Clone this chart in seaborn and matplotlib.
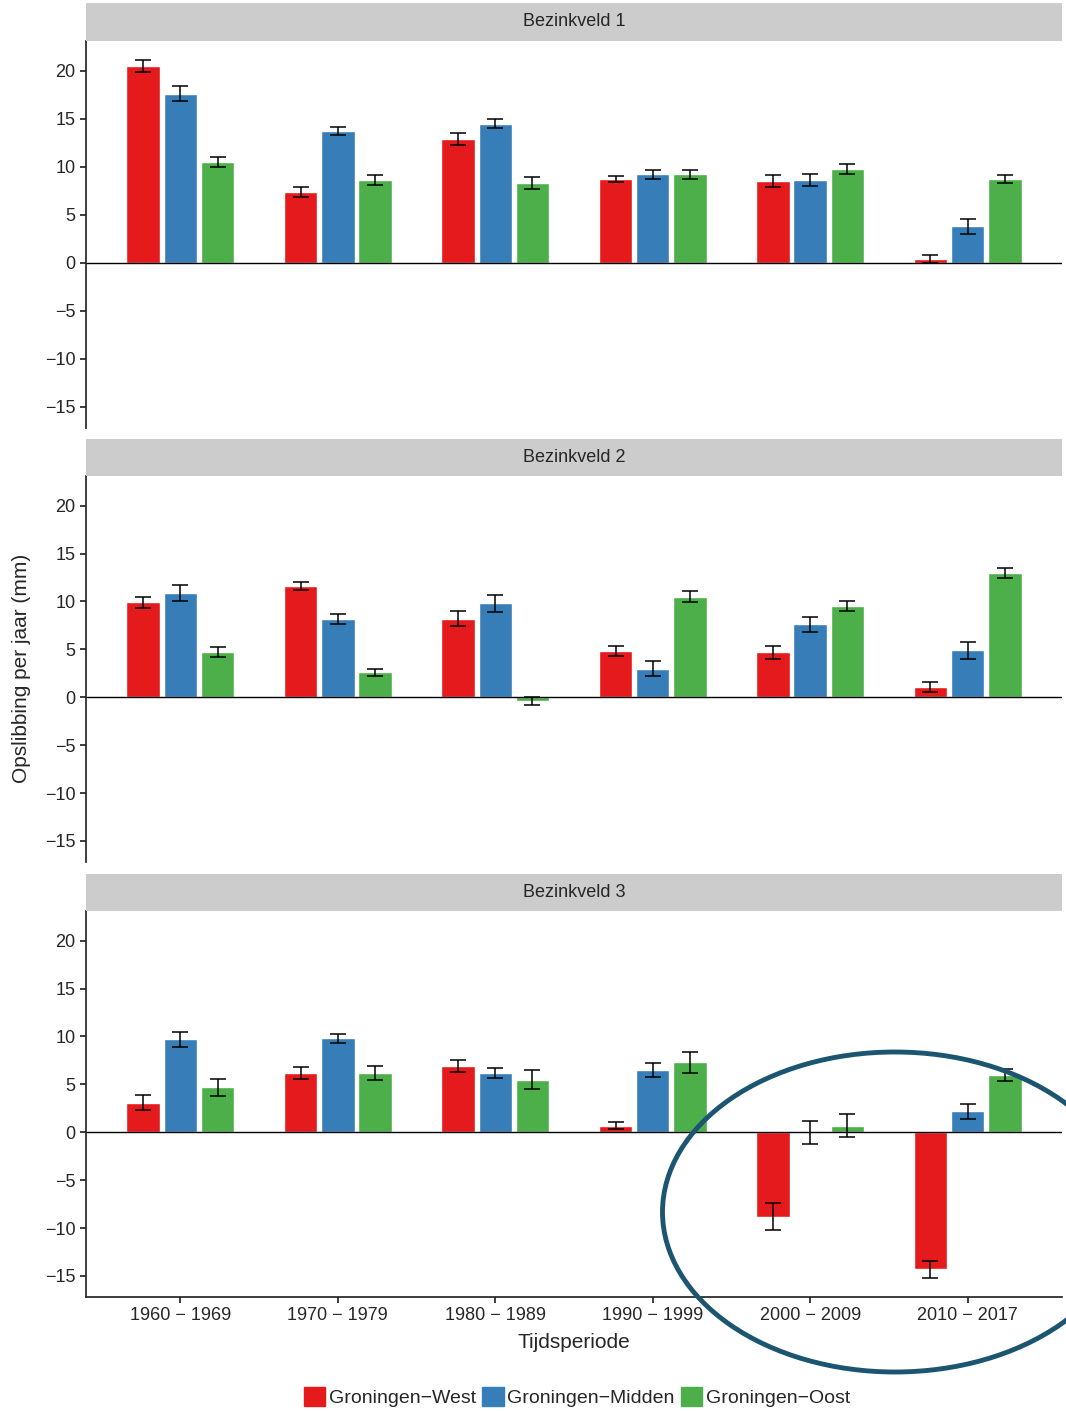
import numpy as np
import pandas as pd
import matplotlib
matplotlib.use("Agg")
import matplotlib.pyplot as plt
from matplotlib.patches import Ellipse
import seaborn as sns

sns.set_theme(style="ticks")
plt.rcParams['font.family'] = ['Liberation Sans', 'DejaVu Sans']

periods = ["1960 \u2212 1969", "1970 \u2212 1979", "1980 \u2212 1989",
           "1990 \u2212 1999", "2000 \u2212 2009", "2010 \u2212 2017"]
series = ["Groningen\u2212West", "Groningen\u2212Midden", "Groningen\u2212Oost"]
panels = ["Bezinkveld 1", "Bezinkveld 2", "Bezinkveld 3"]
colors = ["#E41A1C", "#377EB8", "#4DAF4A"]

# values[panel][series][period]
west = [[20.5, 7.4, 12.9, 8.7, 8.5, 0.4],
        [9.9, 11.6, 8.2, 4.8, 4.7, 1.1],
        [3.1, 6.2, 6.9, 0.7, -8.8, -14.3]]
midden = [[17.6, 13.7, 14.5, 9.2, 8.6, 3.8],
          [10.9, 8.2, 9.8, 3.0, 7.6, 4.9],
          [9.7, 9.8, 6.2, 6.5, 0.0, 2.2]]
oost = [[10.5, 8.6, 8.3, 9.2, 9.8, 8.7],
        [4.7, 2.6, -0.4, 10.5, 9.5, 13.0],
        [4.7, 6.2, 5.5, 7.3, 0.7, 6.0]]
err_west = [[0.6, 0.5, 0.6, 0.3, 0.6, 0.4],
            [0.6, 0.4, 0.8, 0.5, 0.7, 0.5],
            [0.8, 0.6, 0.6, 0.4, 1.4, 0.9]]
err_midden = [[0.8, 0.4, 0.5, 0.5, 0.6, 0.8],
              [0.8, 0.5, 0.9, 0.8, 0.8, 0.9],
              [0.8, 0.5, 0.5, 0.7, 1.2, 0.8]]
err_oost = [[0.5, 0.5, 0.6, 0.5, 0.5, 0.4],
            [0.5, 0.4, 0.4, 0.6, 0.5, 0.5],
            [0.9, 0.7, 1.0, 1.1, 1.2, 0.6]]

rows = []
for p, panel in enumerate(panels):
    for s, (vals, errs) in enumerate([(west, err_west), (midden, err_midden), (oost, err_oost)]):
        for k, per in enumerate(periods):
            rows.append(dict(panel=panel, serie=series[s], period=per,
                             value=vals[p][k], err=errs[p][k], s=s, k=k))
df = pd.DataFrame(rows)

fig = plt.figure(figsize=(10.66, 14.11), dpi=100)
W, H = 1066, 1411
axes_px = [(41, 428), (476, 862), (911, 1297)]
strip_px = [(3, 41), (439, 476), (874, 911)]
left, right = 86, 1062

for p, panel in enumerate(panels):
    top, bot = axes_px[p]
    ax = fig.add_axes([left / W, 1 - bot / H, (right - left) / W, (bot - top) / H])
    sub = df[df.panel == panel]
    sns.barplot(data=sub, x="period", y="value", hue="serie", order=periods,
                hue_order=series, palette=colors, width=0.71, gap=0.1,
                saturation=1, errorbar=None, legend=False, ax=ax)
    offs = [-0.236, 0.0, 0.236]
    for _, r in sub.iterrows():
        ax.errorbar(r.k + offs[r.s], r.value, yerr=r.err, fmt="none",
                    ecolor="black", elinewidth=1.1, capsize=6, capthick=1.1)
    ax.axhline(0, color="black", lw=1)
    ax.set_ylim(-17.2, 23.1)
    ax.set_xlim(-0.6, 5.6)
    ax.set_yticks([-15, -10, -5, 0, 5, 10, 15, 20])
    ax.tick_params(axis="y", labelsize=13, length=4)
    ax.set_xlabel("")
    ax.set_ylabel("")
    sns.despine(ax=ax, top=True, right=True, bottom=(p != 2))
    if p != 2:
        ax.set_xticks([])
    else:
        ax.tick_params(axis="x", labelsize=13, length=4)
    st, sb = strip_px[p]
    sax = fig.add_axes([left / W, 1 - sb / H, (right - left) / W, (sb - st) / H])
    sax.set_facecolor("#CCCCCC")
    sax.set_xticks([]); sax.set_yticks([])
    for sp in sax.spines.values():
        sp.set_visible(False)
    sax.text(0.5, 0.5, panel, ha="center", va="center", fontsize=13, transform=sax.transAxes)

fig.text(574 / W, 1 - 1343 / H, "Tijdsperiode", ha="center", va="center", fontsize=15)
fig.text(22 / W, 1 - 668 / H, "Opslibbing per jaar (mm)", ha="center", va="center",
         rotation=90, fontsize=15)

handles = [plt.Rectangle((0, 0), 1, 1, color=c) for c in colors]
fig.legend(handles=handles, labels=series, loc="center", ncol=3,
           bbox_to_anchor=(577 / W, 1 - 1397 / H), frameon=False, fontsize=14,
           handlelength=1.1, handleheight=1.1, handletextpad=0.2, columnspacing=0.3)

ov = fig.add_axes([0, 0, 1, 1], facecolor="none")
ov.set_xlim(0, W); ov.set_ylim(H, 0); ov.axis("off")
ov.add_patch(Ellipse((895, 1212), 465, 320, fill=False, edgecolor="#1B5570", lw=3.5))

fig.savefig("out.png", dpi=100)
